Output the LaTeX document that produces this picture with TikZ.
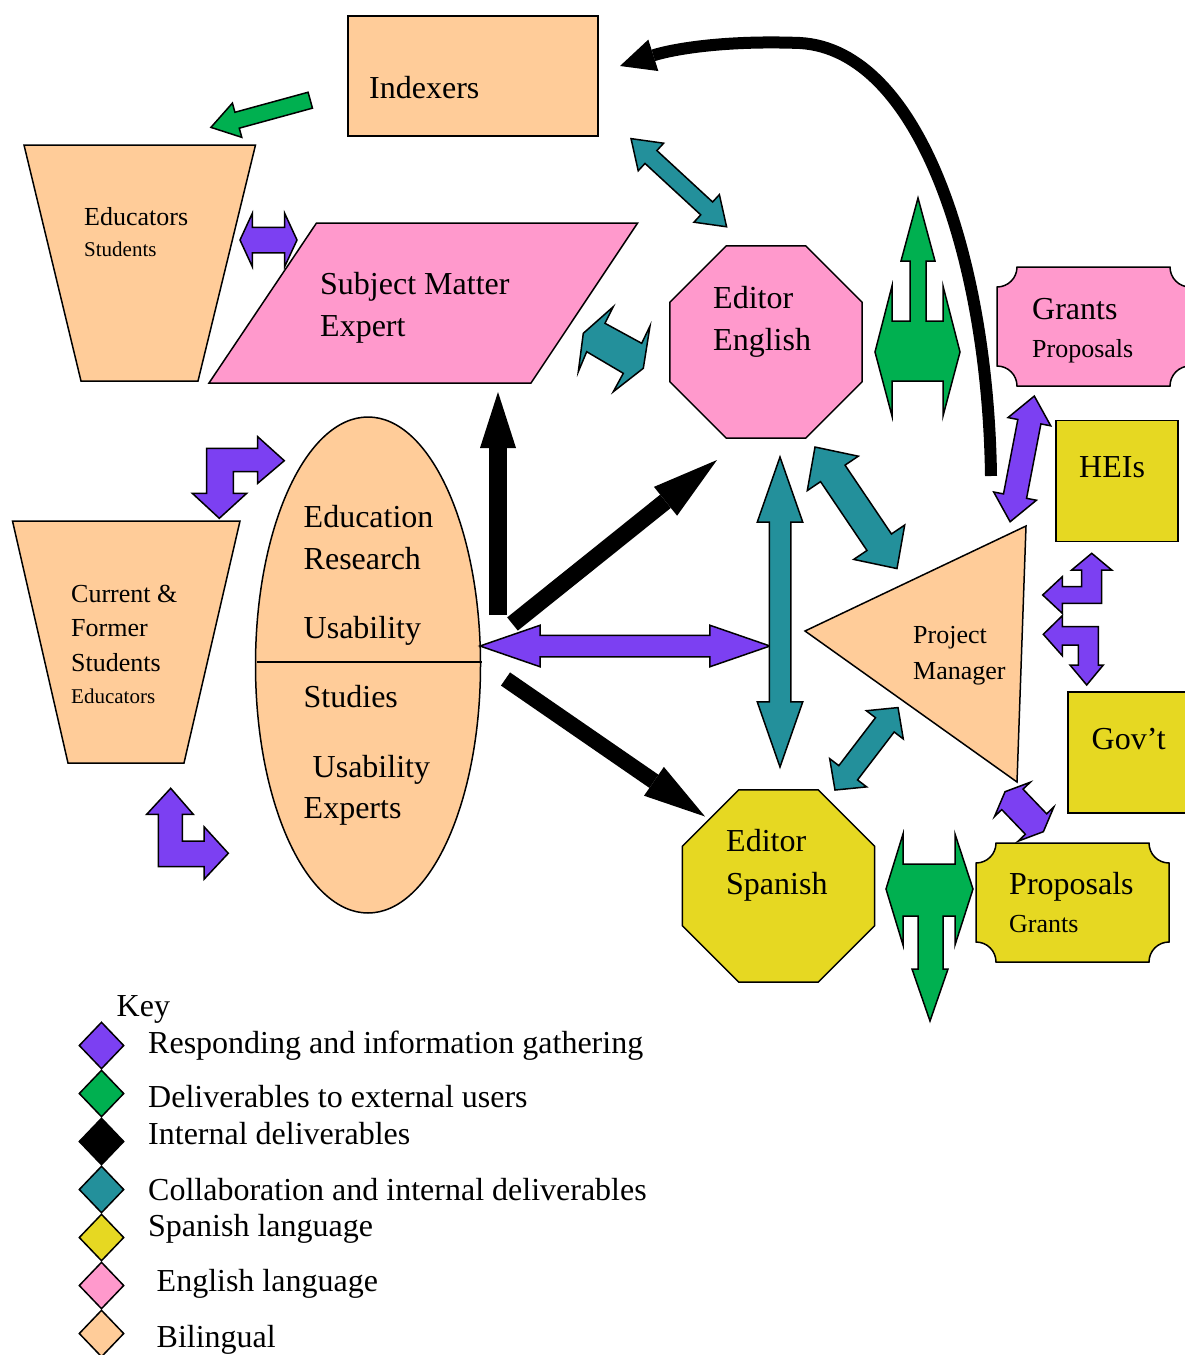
\documentclass[tikz,border=0pt]{standalone}
\usepackage{fontspec}
\setmainfont{Liberation Serif}
\usetikzlibrary{shapes.geometric,shapes.arrows,arrows.meta}
\definecolor{purplearrow}{RGB}{124,64,242}
\definecolor{greenarrow}{RGB}{0,176,80}
\definecolor{tealarrow}{RGB}{35,144,155}
\definecolor{spanish}{RGB}{230,216,34}
\definecolor{english}{RGB}{255,153,204}
\definecolor{bilingual}{RGB}{255,204,153}
\begin{document}
\begin{tikzpicture}
[x=1pt,y=-1pt,
  shapedecorate/.style={draw,line width=1.5pt,inner sep=0pt},
  outlinedecorate/.style={draw,line width=1.5pt},
  boxdecorate/.style={shapedecorate,rectangle},
  octdecorate/.style={shapedecorate,regular polygon,regular polygon sides=8,minimum size=208pt},
  keydecorate/.style={shapedecorate,diamond,minimum width=45pt,minimum height=47pt},
  dblarrowdecorate/.style={shapedecorate,double arrow,double arrow head indent=0pt},
  bigtext/.style={anchor=base west,inner sep=0pt,font=\fontsize{32}{37}\selectfont},
  midtext/.style={anchor=base west,inner sep=0pt,font=\fontsize{26}{30}\selectfont},
  smalltext/.style={anchor=base west,inner sep=0pt,font=\fontsize{21}{25}\selectfont},
  blackarrowdecorate/.style={line width=17pt}]
\useasboundingbox (0,0) rectangle (1185,1355);
% shapes
\node (indexers) at (473,76) [boxdecorate,fill=bilingual,minimum width=250pt,minimum height=120pt] {};
\node (heis) at (1117,481) [boxdecorate,fill=spanish,minimum width=122pt,minimum height=121pt] {};
\node (govt) at (1129,752.5) [boxdecorate,fill=spanish,minimum width=122pt,minimum height=121pt] {};
\node (research) at (368,665) [shapedecorate,ellipse,fill=bilingual,minimum width=225pt,minimum height=496pt] {};
\draw[line width=1.5pt] (257,662) -- (482,662);
\node (editoreng) at (766,342) [octdecorate,fill=english] {};
\node (editorspa) at (778.5,886) [octdecorate,fill=spanish] {};
\filldraw[outlinedecorate,fill=bilingual] (24,145) -- (255.5,145) -- (198,381) -- (81,381) -- cycle;
\filldraw[outlinedecorate,fill=bilingual] (12.5,521) -- (240,521) -- (184,763) -- (68,763) -- cycle;
\filldraw[outlinedecorate,fill=english] (316.5,223) -- (637.6,223) -- (531,383) -- (209,383) -- cycle;
\filldraw[outlinedecorate,fill=bilingual] (805,631) -- (1026,526) -- (1017,782) -- cycle;
\filldraw[outlinedecorate,fill=english] (997,287) arc[start angle=-90,end angle=0,radius=20pt]
  -- (1170,267) arc[start angle=180,end angle=270,radius=20pt]
  -- (1190,366) arc[start angle=90,end angle=180,radius=20pt]
  -- (1017,386) arc[start angle=0,end angle=90,radius=20pt] -- cycle;
\filldraw[outlinedecorate,fill=spanish] (976,863) arc[start angle=-90,end angle=0,radius=20pt]
  -- (1149,843) arc[start angle=180,end angle=270,radius=20pt]
  -- (1169,942) arc[start angle=90,end angle=180,radius=20pt]
  -- (996,962) arc[start angle=0,end angle=90,radius=20pt] -- cycle;
% labels
\node (indexerslabel) at (369,98) [bigtext] {Indexers};
\node (educatorslabel) at (84,225) [midtext] {Educators};
\node (studentslabel) at (84,256) [smalltext] {Students};
\node (smelabel) at (320,294) [bigtext] {Subject Matter};
\node (expertlabel) at (320,336) [bigtext] {Expert};
\node (editorenglabel) at (713,308) [bigtext] {Editor};
\node (englishlabel) at (713,350.5) [bigtext] {English};
\node (grantslabel) at (1032,319) [bigtext] {Grants};
\node (proposalslabel) at (1032,357) [midtext] {Proposals};
\node (heislabel) at (1079,477) [bigtext] {HEIs};
\node (educationlabel) at (303.5,527.5) [bigtext] {Education};
\node (researchlabel) at (303.5,569) [bigtext] {Research};
\node (usabilitylabel) at (303.5,638.5) [bigtext] {Usability};
\node (studieslabel) at (303.5,707) [bigtext] {Studies};
\node (usability2label) at (312.5,777) [bigtext] {Usability};
\node (expertslabel) at (303.5,818) [bigtext] {Experts};
\node (currentlabel) at (71,602) [midtext] {Current \&};
\node (formerlabel) at (71,636.5) [midtext] {Former};
\node (students2label) at (71,671.5) [midtext] {Students};
\node (educators2label) at (71,703) [smalltext] {Educators};
\node (projectlabel) at (913,643.5) [midtext] {Project};
\node (managerlabel) at (913,679.5) [midtext] {Manager};
\node (govtlabel) at (1091.5,749) [bigtext] {Gov’t};
\node (editorspalabel) at (726,851) [bigtext] {Editor};
\node (spanishlabel) at (726,894) [bigtext] {Spanish};
\node (proposals2label) at (1009,894) [bigtext] {Proposals};
\node (grants2label) at (1009,932) [midtext] {Grants};
% block arrows
\node (indexarrow) at (311,100) [shapedecorate,single arrow,fill=greenarrow,anchor=tail,rotate=195.3,inner ysep=7.5pt,
  minimum height=103pt,minimum width=34pt,single arrow head extend=9.5pt,single arrow tip angle=66.4] {};
\node (smearrow) at (268.5,240) [dblarrowdecorate,fill=purplearrow,inner ysep=12pt,
  minimum height=57pt,minimum width=52pt,double arrow head extend=14pt,double arrow tip angle=130.4] {};
\node (studyarrow) at (625,646) [dblarrowdecorate,fill=purplearrow,inner ysep=10pt,
  minimum height=290pt,minimum width=40pt,double arrow head extend=10pt,double arrow tip angle=38.1] {};
\node (editorsarrow) at (780,612) [dblarrowdecorate,fill=tealarrow,rotate=90,inner ysep=10pt,
  minimum height=310pt,minimum width=44pt,double arrow head extend=12pt,double arrow tip angle=38.5] {};
\node (indexengarrow) at (678.8,182.7) [dblarrowdecorate,fill=tealarrow,rotate=-42.7,inner ysep=8pt,
  minimum height=130pt,minimum width=36pt,double arrow head extend=10pt,double arrow tip angle=69.4] {};
\node (engpmarrow) at (856,507.8) [dblarrowdecorate,fill=tealarrow,rotate=-56,inner ysep=14pt,
  minimum height=146.6pt,minimum width=60pt,double arrow head extend=16pt,double arrow tip angle=88.1] {};
\node (spapmarrow) at (866.5,748.8) [dblarrowdecorate,fill=tealarrow,rotate=52.6,inner ysep=11pt,
  minimum height=103.8pt,minimum width=45pt,double arrow head extend=11.5pt,double arrow tip angle=93.9] {};
\node (grantspmarrow) at (1022.2,458.9) [dblarrowdecorate,fill=purplearrow,rotate=79.1,inner ysep=11pt,
  minimum height=128pt,minimum width=42pt,double arrow head extend=10pt,double arrow tip angle=79.6] {};
\node (pmpropsarrow) at (1024.2,811.7) [dblarrowdecorate,fill=purplearrow,rotate=-46.2,inner ysep=14pt,
  minimum height=55.4pt,minimum width=48pt,double arrow head extend=10pt,double arrow tip angle=133.5] {};
\filldraw[outlinedecorate,fill=tealarrow] (613.3,306.7) -- (605,323.3) -- (641.7,343.3) -- (650,326)
  -- (643.3,368.3) -- (613.3,391.7) -- (623.3,373.3) -- (586.7,351.7) -- (578.3,371.7) -- (583.3,333.3) -- cycle;
\filldraw[outlinedecorate,fill=purplearrow] (206.7,448.3) -- (257.7,448.3) -- (257.7,436.7) -- (284.3,460.7)
  -- (257.7,483.3) -- (257.7,471.7) -- (233.3,471.7) -- (233.3,493.3) -- (246.7,493.3) -- (219.3,518.3)
  -- (192.3,493.3) -- (206.7,493.3) -- cycle;
\filldraw[outlinedecorate,fill=purplearrow] (170.7,788.3) -- (193.3,814.3) -- (182.3,814.3) -- (182.3,841)
  -- (204,841) -- (204,826.7) -- (228.3,853.3) -- (204,879.3) -- (204,866.7) -- (158.3,866.7)
  -- (158.3,814.3) -- (146.7,814.3) -- cycle;
\filldraw[outlinedecorate,fill=purplearrow] (1091.7,553.3) -- (1111.7,570) -- (1101.7,570) -- (1101.7,603.3)
  -- (1062.3,603.3) -- (1062.3,613.3) -- (1042.7,595) -- (1062.3,576.7) -- (1062.3,586.7) -- (1081.7,586.7)
  -- (1081.7,570) -- (1071.7,570) -- cycle;
\filldraw[outlinedecorate,fill=purplearrow] (1062.3,615.7) -- (1062.3,626.7) -- (1098.3,626.7) -- (1098.3,665)
  -- (1103.3,665) -- (1086.7,685) -- (1070,665) -- (1078.3,665) -- (1078.3,645) -- (1062.3,645)
  -- (1062.3,655.7) -- (1043.3,634.3) -- cycle;
\filldraw[outlinedecorate,fill=greenarrow] (918,198) -- (935,261) -- (926,261) -- (926,321) -- (943,321)
  -- (943,286) -- (960,352) -- (943,416) -- (943,381) -- (892,381) -- (892,416) -- (875,352) -- (892,286)
  -- (892,321) -- (910,321) -- (910,261) -- (901,261) -- cycle;
\filldraw[outlinedecorate,fill=greenarrow] (903,834) -- (903,864) -- (955,864) -- (955,834) -- (973,889)
  -- (955,945) -- (955,916) -- (943,916) -- (943,969) -- (948,969) -- (930,1021) -- (912,969) -- (918,969)
  -- (918,916) -- (903,916) -- (903,945) -- (886,889) -- cycle;
% black arrows
\coordinate (upfrom) at (498,615);
\coordinate (upto) at (498,392);
\coordinate (engfrom) at (512.5,624);
\coordinate (engto) at (717,460);
\coordinate (spafrom) at (505.5,679);
\coordinate (spato) at (705,816.5);
\coordinate (pmfrom) at (991,476);
\coordinate (pmto) at (620,66);
\draw[blackarrowdecorate,line width=18pt,-{Triangle[length=56pt,width=36pt,line width=0pt]}] (upfrom) -- (upto);
\draw[blackarrowdecorate,-{Triangle[length=66pt,width=37pt,line width=0pt]}] (engfrom) -- (engto);
\draw[blackarrowdecorate,line width=16pt,-{Triangle[length=62pt,width=35pt,line width=0pt]}] (spafrom) -- (spato);
\draw[blackarrowdecorate,line width=12pt,-{Triangle[length=35pt,width=33pt,line width=0pt]}] (pmfrom)
  .. controls (988,260) and (920,50) .. (800,43) .. controls (720,40) and (670,50) .. (pmto);
% key
\node (keytitle) at (116.5,1016.5) [bigtext] {Key};
\node (keypurple) at (101.5,1045.5) [keydecorate,fill=purplearrow] {};
\node (keygreen) at (101.5,1093.5) [keydecorate,fill=greenarrow] {};
\node (keyblack) at (101.5,1141.5) [keydecorate,fill=black] {};
\node (keyteal) at (101.5,1189.5) [keydecorate,fill=tealarrow] {};
\node (keyspanish) at (101.5,1237.5) [keydecorate,fill=spanish] {};
\node (keyenglish) at (101.5,1285.5) [keydecorate,fill=english] {};
\node (keybilingual) at (101.5,1333.5) [keydecorate,fill=bilingual] {};
\node (keypurpletext) at (148,1053.3) [bigtext] {Responding and information gathering};
\node (keygreentext) at (148,1107.3) [bigtext] {Deliverables to external users};
\node (keyblacktext) at (148,1144.3) [bigtext] {Internal deliverables};
\node (keytealtext) at (148,1200.7) [bigtext] {Collaboration and internal deliverables};
\node (keyspanishtext) at (148,1236.7) [bigtext] {Spanish language};
\node (keyenglishtext) at (156.5,1291.7) [bigtext] {English language};
\node (keybilingualtext) at (156.5,1347.3) [bigtext] {Bilingual};
\end{tikzpicture}
\end{document}
